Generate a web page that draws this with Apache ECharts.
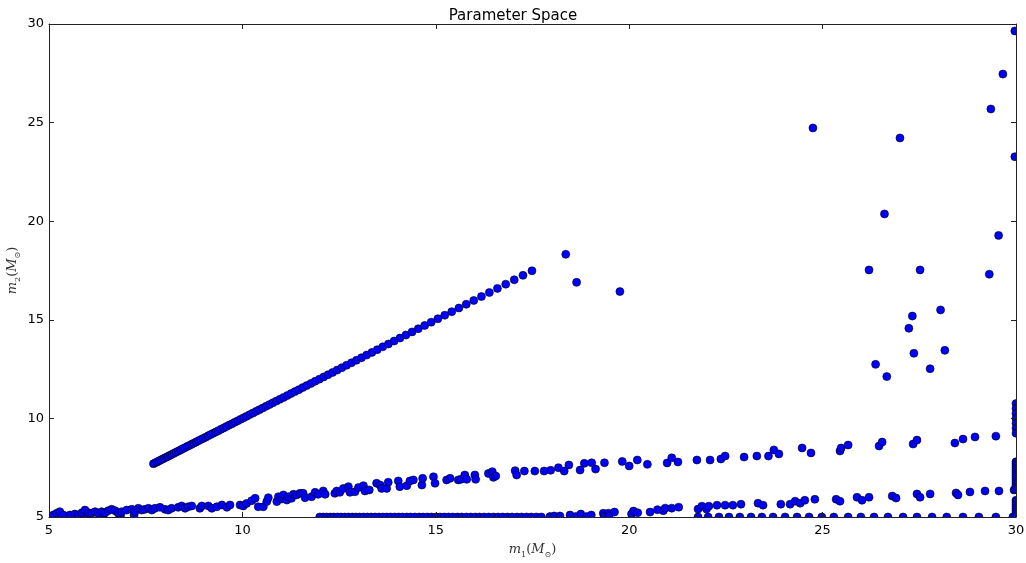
<!DOCTYPE html>
<html><head><meta charset="utf-8">
<script src="https://cdn.jsdelivr.net/npm/echarts@6/dist/echarts.min.js"></script>
<style>html,body{margin:0;padding:0;background:#fff}#c{width:1026px;height:563px}</style>
</head><body><div id="c"></div>
<script>
// ---- data ----
const xTicks = [5, 10, 15, 20, 25, 30];
const yTicks = [5, 10, 15, 20, 25, 30];

// equal-mass diagonal: m2 = m1
const diagM1 = [7.70,7.746,7.793,7.840,7.888,7.937,7.986,8.036,8.086,8.137,8.189,8.241,8.294,8.348,8.402,8.457,8.513,8.570,8.627,8.685,8.744,8.804,8.864,8.925,8.987,9.050,9.114,9.179,9.245,9.312,9.380,9.448,9.518,9.589,9.660,9.733,9.807,9.882,9.958,10.035,10.114,10.194,10.275,10.357,10.441,10.526,10.612,10.700,10.789,10.880,10.972,11.066,11.162,11.259,11.358,11.459,11.561,11.665,11.771,11.879,11.989,12.101,12.215,12.331,12.450,12.571,12.694,12.820,12.948,13.079,13.212,13.348,13.487,13.629,13.774,13.922,14.073,14.228,14.386,14.547,14.712,14.881,15.054,15.231,15.412,15.597,15.787,15.981,16.180,16.384,16.593,16.808,17.028,17.254,17.486];

// upper band
const bandAM1 = [5.05,5.15,5.45,5.90,6.40,6.85,7.20,5.03,5.11,5.20,5.28,5.37,5.54,5.67,5.76,5.85,5.93,6.02,6.10,6.19,6.27,6.36,6.45,6.53,6.62,6.71,6.79,6.88,7.01,7.14,7.22,7.31,7.40,7.48,7.57,7.66,7.74,7.87,8.00,8.08,8.17,8.34,8.43,8.52,8.60,8.69,8.90,8.95,9.12,9.21,9.34,9.47,9.60,9.68,9.94,10.02,10.11,10.24,10.33,10.41,10.54,10.63,10.67,10.89,10.93,11.02,11.06,11.15,11.19,11.27,11.32,11.40,11.49,11.57,11.62,11.79,11.88,11.96,12.09,12.14,12.39,12.44,12.52,12.61,12.74,12.78,12.91,13.00,13.13,13.17,13.28,13.47,13.56,13.60,13.73,13.77,14.03,14.07,14.25,14.33,14.42,14.64,14.66,14.94,14.98,15.28,15.37,15.58,15.65,15.75,15.80,16.01,16.03,16.36,16.46,16.49,16.55,17.05,17.09,17.29,17.56,17.80,17.97,18.17,18.32,18.44,18.73,18.84,19.03,19.13,19.36,19.82,20.00,20.21,20.47,20.98,21.10,21.26,21.75,22.09,22.37,22.48,22.97,23.30,23.60,23.74,23.87,24.47,24.70,25.45,25.48,25.66,26.46,26.54,27.34,27.44,28.42,28.63,28.94,29.48];
const bandAM2 = [5.02,5.05,5.03,5.05,5.05,5.08,5.10,5.02,5.10,5.19,5.27,5.10,5.10,5.15,5.10,5.22,5.35,5.22,5.19,5.27,5.19,5.27,5.22,5.32,5.39,5.32,5.19,5.27,5.35,5.39,5.27,5.44,5.35,5.39,5.44,5.35,5.44,5.49,5.39,5.35,5.44,5.49,5.56,5.44,5.52,5.56,5.44,5.56,5.56,5.44,5.52,5.61,5.49,5.61,5.61,5.56,5.69,5.83,5.95,5.52,5.52,5.78,5.98,5.78,6.03,5.91,6.12,5.86,6.03,5.95,6.15,6.12,6.20,6.20,5.98,6.03,6.25,6.15,6.32,6.15,6.20,6.32,6.25,6.45,6.54,6.25,6.28,6.49,6.59,6.32,6.37,6.71,6.62,6.45,6.45,6.76,6.83,6.54,6.59,6.83,6.88,6.62,6.96,7.04,6.71,6.88,6.96,6.88,6.91,7.13,6.91,7.13,6.91,7.21,7.30,7.01,7.08,7.35,7.13,7.33,7.33,7.33,7.37,7.50,7.33,7.64,7.38,7.72,7.75,7.43,7.75,7.82,7.59,7.89,7.67,7.74,8.00,7.79,7.89,7.89,7.94,8.09,8.04,8.09,8.09,8.40,8.20,8.50,8.25,8.35,8.50,8.65,8.60,8.80,8.70,8.90,8.75,8.95,9.06,9.10];

// lower band
const bandBM1 = [17.95,18.06,18.21,18.47,18.62,18.75,18.90,19.02,19.33,19.35,19.46,19.48,19.62,20.06,20.11,20.22,20.54,20.73,20.88,20.93,21.10,21.28,21.78,21.88,22.00,22.06,22.27,22.48,22.68,22.89,23.33,23.46,23.92,24.16,24.29,24.42,24.54,24.80,25.35,25.45,25.89,26.02,26.20,26.80,26.90,27.44,27.52,27.78,28.45,28.50,28.81,29.20,29.56,29.95];
const bandBM2 = [5.02,5.05,5.05,5.10,5.02,5.15,5.02,5.10,5.19,5.05,5.19,5.05,5.25,5.15,5.30,5.22,5.25,5.37,5.32,5.45,5.45,5.50,5.40,5.55,5.40,5.55,5.60,5.60,5.60,5.65,5.70,5.60,5.65,5.65,5.80,5.70,5.85,5.90,5.90,5.80,6.00,5.85,6.00,6.06,5.96,6.17,6.00,6.17,6.22,6.12,6.27,6.32,6.32,6.37];

// points on the m2 = 5 floor
const floorM1 = [12.00,12.09,12.18,12.27,12.36,12.46,12.55,12.65,12.74,12.84,12.93,13.03,13.13,13.23,13.33,13.43,13.53,13.63,13.73,13.83,13.94,14.04,14.14,14.25,14.35,14.46,14.57,14.67,14.78,14.89,15.00,15.11,15.22,15.33,15.44,15.56,15.67,15.79,15.90,16.02,16.13,16.25,16.37,16.49,16.61,16.73,16.85,16.97,17.10,17.22,17.35,17.47,17.60,17.73,21.78,22.04,22.32,22.58,22.86,23.15,23.43,23.72,24.03,24.34,24.65,24.98,25.29,25.66,25.99,26.33,26.69,27.08,27.44,27.83,28.21,28.63,29.04,29.48,29.92];

// points on the m1 = 30 edge
const edgeM2 = [10.75,10.5,10.25,10.0,9.75,9.5,9.25,7.8,7.7,7.6,7.5,7.4,7.3,7.2,7.1,7.0,6.9,6.8,6.7,6.6,6.5,6.4,5.85,5.75,5.65,5.55,5.45,5.35,5.25,5.15,5.05];

// isolated points
const looseM1 = [18.36,18.64,19.76,24.75,27.00,29.35,29.66,29.97,29.97,26.60,29.55,26.20,27.52,29.31,28.05,27.32,27.23,27.36,28.16,26.37,26.66,27.78];
const looseM2 = [18.32,16.90,16.43,24.73,24.22,25.69,27.46,29.65,23.27,20.37,19.28,17.53,17.53,17.31,15.50,15.19,14.57,13.30,13.45,12.74,12.12,12.52];

// ---- build points ----
const pts = [];
diagM1.forEach(v => pts.push([v, v]));
bandAM1.forEach((v, i) => pts.push([v, bandAM2[i]]));
bandBM1.forEach((v, i) => pts.push([v, bandBM2[i]]));
floorM1.forEach(v => pts.push([v, 5]));
edgeM2.forEach(v => pts.push([30, v]));
looseM1.forEach((v, i) => pts.push([v, looseM2[i]]));

const chart = echarts.init(document.getElementById('c'), null, {renderer: 'canvas'});
const G = {left: 49, right: 10, top: 24, bottom: 46, containLabel: false, outerBoundsMode: 'none'};
const W = 1026, H = 563;
const lineC = '#222';
const richName = {
  i: {fontFamily: 'DejaVu Serif', fontStyle: 'italic', fontSize: 13, color: '#333', lineHeight: 18},
  n: {fontFamily: 'DejaVu Serif', fontSize: 13, color: '#333', lineHeight: 18},
  s: {fontFamily: 'DejaVu Serif', fontSize: 8, color: '#333', verticalAlign: 'bottom', lineHeight: 12}
};
const baseAxis = {
  type: 'value', min: 5, max: 30, interval: 5, z: 10,
  axisLine: {show: true, lineStyle: {color: lineC, width: 1}},
  axisTick: {show: true, inside: true, length: 5, lineStyle: {color: lineC}},
  splitLine: {show: false}
};
const option = {
  animation: false,
  backgroundColor: '#fff',
  title: {text: 'Parameter Space', left: 'center', top: 4,
    textStyle: {fontFamily: 'DejaVu Sans', fontSize: 15, fontWeight: 'normal', color: '#000'}},
  grid: G,
  xAxis: [
    Object.assign({}, baseAxis, {position: 'bottom',
      axisLabel: {show: true, margin: 7, fontFamily: 'DejaVu Sans', fontSize: 13, color: '#000',
        customValues: xTicks},
      name: '{i|m}{s|1}{n|(}{i|M}{s|⊙}{n|)}', nameLocation: 'middle', nameGap: 24,
      nameTextStyle: {rich: richName}}),
    Object.assign({}, baseAxis, {position: 'top', axisLabel: {show: false}})
  ],
  yAxis: [
    Object.assign({}, baseAxis, {position: 'left',
      axisLabel: {show: true, margin: 5, fontFamily: 'DejaVu Sans', fontSize: 13, color: '#000',
        customValues: yTicks},
      name: '{i|m}{s|2}{n|(}{i|M}{s|⊙}{n|)}', nameLocation: 'middle', nameGap: 27,
      nameMoveOverlap: false,
      nameTextStyle: {rich: richName}}),
    Object.assign({}, baseAxis, {position: 'right', axisLabel: {show: false}})
  ],
  graphic: {elements: [
    {type: 'rect', z: 5, silent: true, shape: {x: 0, y: 0, width: G.left, height: H}, style: {fill: '#fff'}},
    {type: 'rect', z: 5, silent: true, shape: {x: 0, y: H - G.bottom, width: W, height: G.bottom}, style: {fill: '#fff'}},
    {type: 'rect', z: 5, silent: true, shape: {x: W - G.right, y: 0, width: G.right, height: H}, style: {fill: '#fff'}},
    {type: 'rect', z: 5, silent: true, shape: {x: 0, y: 0, width: W, height: G.top}, style: {fill: '#fff'}}
  ]},
  series: [{
    type: 'scatter', xAxisIndex: 0, yAxisIndex: 0, data: pts, z: 2,
    symbol: 'circle', symbolSize: 8, clip: false,
    itemStyle: {color: '#0000ff', borderColor: '#000', borderWidth: 0.6, opacity: 1},
    emphasis: {disabled: true}
  }]
};
chart.setOption(option);
</script>
</body></html>
